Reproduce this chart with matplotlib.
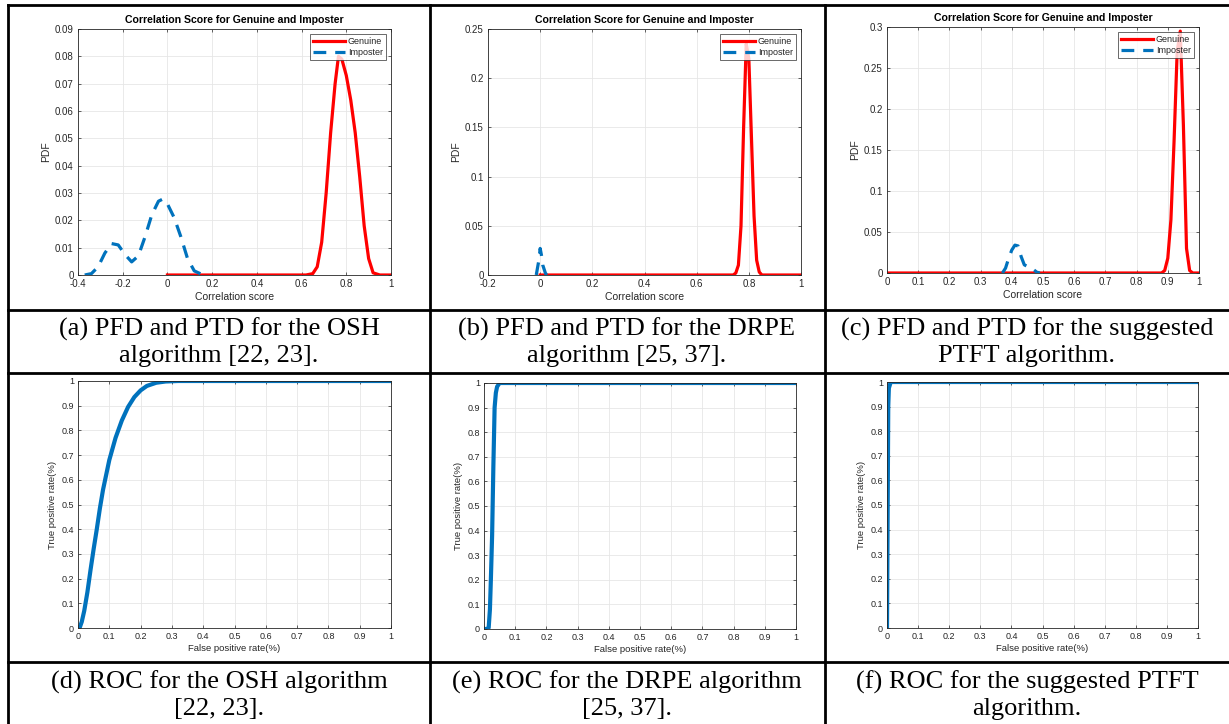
import matplotlib
matplotlib.use("Agg")
import matplotlib.pyplot as plt
from matplotlib.lines import Line2D

plt.rcParams["font.family"] = ["Liberation Sans", "DejaVu Sans"]

W, H = 1229, 724

# ── 数据：PDF 曲线 ──
gen_a_x = [0, 0.62, 0.65, 0.67, 0.69, 0.71, 0.73, 0.75, 0.765, 0.78, 0.80, 0.82, 0.84, 0.86, 0.88, 0.90, 0.92, 0.95, 1.0]
gen_a_y = [0, 0, 0.0005, 0.003, 0.012, 0.030, 0.052, 0.070, 0.080, 0.079, 0.073, 0.064, 0.052, 0.036, 0.018, 0.006, 0.0008, 0, 0]
imp_a_x = [-0.37, -0.34, -0.31, -0.28, -0.25, -0.22, -0.19, -0.16, -0.13, -0.10, -0.07, -0.04, -0.02, 0.0, 0.03, 0.06, 0.09, 0.12, 0.16]
imp_a_y = [0, 0.0005, 0.003, 0.008, 0.0115, 0.011, 0.0075, 0.0048, 0.007, 0.014, 0.022, 0.027, 0.0278, 0.026, 0.021, 0.014, 0.006, 0.0015, 0]

gen_b_x = [0, 0.74, 0.75, 0.76, 0.77, 0.78, 0.79, 0.80, 0.81, 0.82, 0.83, 0.84, 0.85, 1.0]
gen_b_y = [0, 0, 0.002, 0.01, 0.05, 0.15, 0.235, 0.22, 0.14, 0.06, 0.015, 0.003, 0, 0]
imp_b_x = [-0.015, -0.005, 0.0, 0.005, 0.01, 0.02, 0.025]
imp_b_y = [0, 0.015, 0.027, 0.02, 0.01, 0.002, 0]

gen_c_x = [0, 0.88, 0.89, 0.90, 0.91, 0.92, 0.93, 0.94, 0.95, 0.96, 0.97, 0.98, 1.0]
gen_c_y = [0, 0, 0.003, 0.018, 0.065, 0.16, 0.27, 0.295, 0.18, 0.03, 0.003, 0, 0]
imp_c_x = [0.37, 0.38, 0.39, 0.40, 0.41, 0.42, 0.43, 0.44, 0.45, 0.46, 0.47, 0.48, 0.49]
imp_c_y = [0, 0.006, 0.018, 0.028, 0.034, 0.033, 0.02, 0.01, 0.008, 0.007, 0.004, 0.001, 0]

# ── 数据：ROC 曲线 ──
roc_d_fpr = [0, 0.005, 0.012, 0.02, 0.03, 0.04, 0.05, 0.06, 0.07, 0.08, 0.09, 0.10, 0.12, 0.14, 0.16, 0.18, 0.20, 0.22, 0.25, 0.28, 0.32, 1.0]
roc_d_tpr = [0, 0, 0.025, 0.07, 0.145, 0.235, 0.32, 0.40, 0.485, 0.56, 0.62, 0.68, 0.77, 0.84, 0.895, 0.935, 0.962, 0.98, 0.993, 0.998, 1.0, 1.0]
roc_e_fpr = [0, 0.008, 0.015, 0.019, 0.022, 0.026, 0.03, 0.034, 0.038, 0.042, 0.05, 1.0]
roc_e_tpr = [0, 0, 0.005, 0.08, 0.2, 0.38, 0.66, 0.9, 0.96, 0.985, 1.0, 1.0]
roc_f_fpr = [0, 0.002, 0.004, 0.006, 0.012, 1.0]
roc_f_tpr = [0, 0.45, 0.9, 0.975, 1.0, 1.0]

pdf_xticks = [
    [-0.4, -0.2, 0, 0.2, 0.4, 0.6, 0.8, 1],
    [-0.2, 0, 0.2, 0.4, 0.6, 0.8, 1],
    [0, 0.1, 0.2, 0.3, 0.4, 0.5, 0.6, 0.7, 0.8, 0.9, 1],
]
pdf_xticklabels = [
    ["-0.4", "-0.2", "0", "0.2", "0.4", "0.6", "0.8", "1"],
    ["-0.2", "0", "0.2", "0.4", "0.6", "0.8", "1"],
    ["0", "0.1", "0.2", "0.3", "0.4", "0.5", "0.6", "0.7", "0.8", "0.9", "1"],
]
pdf_yticks = [
    [0, 0.01, 0.02, 0.03, 0.04, 0.05, 0.06, 0.07, 0.08, 0.09],
    [0, 0.05, 0.1, 0.15, 0.2, 0.25],
    [0, 0.05, 0.1, 0.15, 0.2, 0.25, 0.3],
]
pdf_yticklabels = [
    ["0", "0.01", "0.02", "0.03", "0.04", "0.05", "0.06", "0.07", "0.08", "0.09"],
    ["0", "0.05", "0.1", "0.15", "0.2", "0.25"],
    ["0", "0.05", "0.1", "0.15", "0.2", "0.25", "0.3"],
]
roc_ticks = [0, 0.1, 0.2, 0.3, 0.4, 0.5, 0.6, 0.7, 0.8, 0.9, 1]
roc_ticklabels = ["0", "0.1", "0.2", "0.3", "0.4", "0.5", "0.6", "0.7", "0.8", "0.9", "1"]

captions_top = [
    "(a) PFD and PTD for the OSH\nalgorithm [22, 23].",
    "(b) PFD and PTD for the DRPE\nalgorithm [25, 37].",
    "(c) PFD and PTD for the suggested\nPTFT algorithm.",
]
captions_bottom = [
    "(d) ROC for the OSH algorithm\n[22, 23].",
    "(e) ROC for the DRPE algorithm\n[25, 37].",
    "(f) ROC for the suggested PTFT\nalgorithm.",
]

RED = "#ff0000"
BLUE = "#0072bd"
AX_COL = "#262626"


def px_rect(l, t, r, b):
    return [l / W, 1 - b / H, (r - l) / W, (b - t) / H]


def style_axes(ax):
    ax.grid(True, color="#e6e6e6", linewidth=0.6)
    ax.set_axisbelow(True)
    ax.tick_params(direction="in", length=2.5, width=0.5, labelsize=7,
                   colors=AX_COL, top=True, right=True, pad=3)
    for s in ax.spines.values():
        s.set_linewidth(0.6)
        s.set_color(AX_COL)


fig = plt.figure(figsize=(W / 100, H / 100), dpi=100)

pdf_boxes = [(78, 29, 391, 275), (488, 29, 801, 275), (887, 27, 1199, 273)]
pdf_data = [(gen_a_x, gen_a_y, imp_a_x, imp_a_y, (-0.4, 1), (0, 0.09)),
            (gen_b_x, gen_b_y, imp_b_x, imp_b_y, (-0.2, 1), (0, 0.25)),
            (gen_c_x, gen_c_y, imp_c_x, imp_c_y, (0, 1), (0, 0.3))]

for i, (box, d) in enumerate(zip(pdf_boxes, pdf_data)):
    gx, gy, ix, iy, xl, yl = d
    ax = fig.add_axes(px_rect(*box))
    ax.plot(gx, gy, color=RED, linewidth=2.3, label="Genuine")
    ax.plot(ix, iy, color=BLUE, linewidth=2.3, linestyle=(0, (4, 2.8)), label="Imposter")
    ax.set_xlim(*xl)
    ax.set_ylim(*yl)
    ax.set_xticks(pdf_xticks[i])
    ax.set_xticklabels(pdf_xticklabels[i])
    ax.set_yticks(pdf_yticks[i])
    ax.set_yticklabels(pdf_yticklabels[i])
    style_axes(ax)
    ax.set_title("Correlation Score for Genuine and Imposter", fontsize=7.6,
                 fontweight="bold", color="black", pad=4)
    ax.set_xlabel("Correlation score", fontsize=7.5, color=AX_COL, labelpad=2)
    ax.set_ylabel("PDF", fontsize=7.5, color=AX_COL, labelpad=3)
    leg = ax.legend(loc="upper right", fontsize=6.5, frameon=True, fancybox=False,
                    handlelength=3.6, handletextpad=0.3, borderpad=0.3,
                    labelspacing=0.2, borderaxespad=0.6)
    leg.get_frame().set_edgecolor(AX_COL)
    leg.get_frame().set_linewidth(0.6)
    for t in leg.get_texts():
        t.set_color(AX_COL)

roc_boxes = [(78, 381, 391, 628), (484, 383, 796, 629), (887, 382, 1198, 628)]
roc_data = [(roc_d_fpr, roc_d_tpr), (roc_e_fpr, roc_e_tpr), (roc_f_fpr, roc_f_tpr)]

for box, (fx, ty) in zip(roc_boxes, roc_data):
    ax = fig.add_axes(px_rect(*box))
    ax.plot(fx, ty, color=BLUE, linewidth=3)
    ax.set_xlim(0, 1)
    ax.set_ylim(0, 1)
    ax.set_xticks(roc_ticks)
    ax.set_xticklabels(roc_ticklabels)
    ax.set_yticks(roc_ticks)
    ax.set_yticklabels(roc_ticklabels)
    style_axes(ax)
    ax.tick_params(labelsize=6.5)
    ax.set_xlabel("False positive rate(%)", fontsize=6.8, color=AX_COL, labelpad=2)
    ax.set_ylabel("True positive rate(%)", fontsize=6.8, color=AX_COL, labelpad=3)

# 表格线
lw = 2.0
for x in [8, 430, 825]:
    fig.add_artist(Line2D([x / W, x / W], [0, 1 - 5 / H], color="black", linewidth=lw))
for y in [5, 310, 373, 662]:
    fig.add_artist(Line2D([8 / W, 1], [1 - y / H, 1 - y / H], color="black", linewidth=lw))

# 图注
centers = [219, 627, 1027]
for cx, txt in zip(centers, captions_top):
    fig.text(cx / W, 1 - 342 / H, txt, ha="center", va="center", fontsize=19,
             family="Liberation Serif", linespacing=1.22)
for cx, txt in zip(centers, captions_bottom):
    fig.text(cx / W, 1 - 695 / H, txt, ha="center", va="center", fontsize=19,
             family="Liberation Serif", linespacing=1.22)

fig.savefig("out.png", dpi=100, facecolor="white")
plt.close(fig)
